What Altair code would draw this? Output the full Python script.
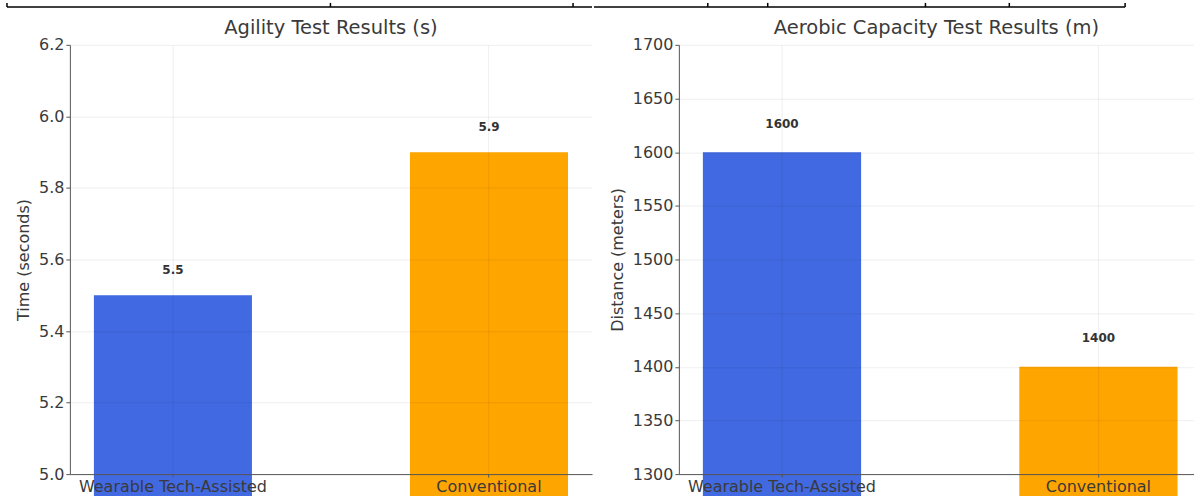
import altair as alt
import pandas as pd

# Test groups and measured results
groups = ["Wearable Tech-Assisted", "Conventional"]
agility_s = [5.5, 5.9]
aerobic_m = [1600, 1400]
bar_colors = ["#4169E1", "#FFA500"]

agility_ticks = [5.0, 5.2, 5.4, 5.6, 5.8, 6.0, 6.2]
aerobic_ticks = [1300, 1350, 1400, 1450, 1500, 1550, 1600, 1650, 1700]

# page layout: left edge of each plot area, top of the plot areas
LEFT_ORIGIN = 70
RIGHT_ORIGIN = 678
PLOT_TOP = 42
PLOT_H = 430

# table border along the top edge of the page: its column dividers
table_edges = [7, 331, 574, 707, 767, 925, 1009, 1125]

FONT = "DejaVu Sans"
AXIS_GRAY = "#555555"
TEXT_GRAY = "#3a3a3a"

one_row = pd.DataFrame({"k": [0]})


def border_layers(origin, start, stop):
    """Top table border segment between page x `start` and `stop`."""
    layers = [
        alt.Chart(one_row).mark_rule(color="#000000", strokeWidth=1.5).encode(
            x=alt.value(start - origin), x2=alt.value(stop - origin),
            y=alt.value(4 - PLOT_TOP),
        )
    ]
    for e in table_edges:
        if start <= e <= stop:
            layers.append(
                alt.Chart(one_row).mark_rule(color="#000000", strokeWidth=1.5).encode(
                    x=alt.value(e - origin),
                    y=alt.value(0 - PLOT_TOP), y2=alt.value(4 - PLOT_TOP),
                )
            )
    return layers


def panel(values, title, y_title, ticks, fmt, label_offset, width, pad_outer, align, border):
    df = pd.DataFrame({"group": groups, "value": values})
    x = alt.X(
        "group:N",
        sort=groups,
        scale=alt.Scale(paddingInner=0.5, paddingOuter=pad_outer, align=align),
        axis=alt.Axis(
            title=None, labelAngle=0, grid=True, bandPosition=0.5,
            labelFontSize=16, labelColor=TEXT_GRAY, labelPadding=1, labelLimit=400,
            tickSize=3, tickColor=AXIS_GRAY, domainColor=AXIS_GRAY,
            gridColor="#000000", gridOpacity=0.07, zindex=1,
        ),
    )
    y_scale = alt.Scale(domain=[ticks[0], ticks[-1]], zero=False, nice=False)
    y_axis = alt.Axis(
        values=ticks, format=fmt, title=y_title, titleFontSize=16,
        titleFontWeight="normal", titleColor=TEXT_GRAY, titlePadding=7,
        labelFontSize=16, labelColor=TEXT_GRAY, labelPadding=2,
        tickSize=4, tickColor=AXIS_GRAY, domainColor=AXIS_GRAY,
        gridColor="#000000", gridOpacity=0.07, zindex=1,
    )
    bars = alt.Chart(df).mark_bar().encode(
        x=x,
        y=alt.Y("value:Q", scale=y_scale, axis=y_axis),
        color=alt.Color("group:N", scale=alt.Scale(domain=groups, range=bar_colors), legend=None),
    )
    labels = alt.Chart(df).transform_calculate(
        label_y=f"datum.value + {label_offset}"
    ).mark_text(
        fontWeight="bold", fontSize=12, baseline="bottom", color="#333333", font=FONT
    ).encode(
        x=alt.X("group:N", sort=groups),
        y=alt.Y("label_y:Q"),
        text=alt.Text("value:Q", format=fmt),
    )
    # panel heading, set just above the plot area
    heading = alt.Chart(one_row).mark_text(
        text=title, fontSize=19.5, color=TEXT_GRAY, font=FONT,
        align="center", baseline="alphabetic",
    ).encode(x=alt.value(width / 2), y=alt.value(-11))
    return alt.layer(bars, labels, heading, *border).properties(width=width, height=PLOT_H)


left = panel(agility_s, "Agility Test Results (s)", "Time (seconds)",
             agility_ticks, ".1f", 0.05, 523, 0.076, 0.5,
             border_layers(LEFT_ORIGIN, table_edges[0], LEFT_ORIGIN + 523))
right = panel(aerobic_m, "Aerobic Capacity Test Results (m)", "Distance (meters)",
              aerobic_ticks, "d", 20, 516, 0.064, 0.593,
              border_layers(RIGHT_ORIGIN, LEFT_ORIGIN + 523, table_edges[-1]))

chart = alt.hconcat(left, right, spacing=0).configure(
    font=FONT, padding={"left": 6, "top": 0, "right": 0, "bottom": 0}
).configure_view(stroke=None)

chart.save("out.html", embed_options={"renderer": "svg", "actions": False})
